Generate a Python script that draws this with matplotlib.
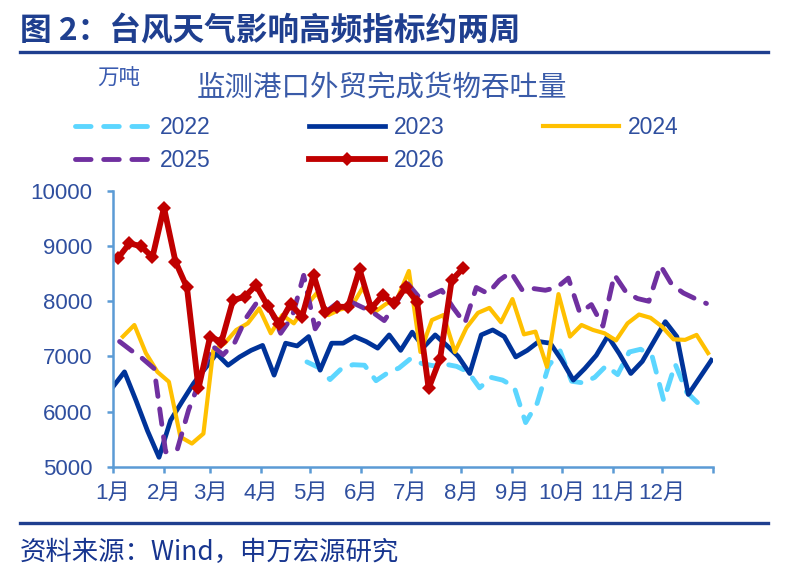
import numpy as np
import pandas as pd
import matplotlib
matplotlib.use('Agg')
import matplotlib.pyplot as plt
from matplotlib.lines import Line2D

plt.rcParams['font.family'] = ['Liberation Sans', 'Noto Sans CJK SC', 'DejaVu Sans']
plt.rcParams['axes.unicode_minus'] = False

# %% Data (weekly, 万吨)
start_2022 = '2022-04-29'
v_2022 = [6900, 6800, 6580, 6780, 6850, 6840, 6560, 6700, 6790, 6960,
          6870, 6830, 6860, 6820, 6720, 6430, 6620, 6570, 6450, 5800,
          6150, 6830, 7100, 6550, 6520, 6620, 6830, 6670, 7080, 7130,
          7000, 6200, 6860, 6350, 6150]

start_2023 = '2023-01-01'
v_2023 = [6450, 6720, 6200, 5650, 5170, 5840, 6180, 6510, 6780, 7050,
          6840, 6990, 7110, 7200, 6660, 7240, 7190, 7360, 6750, 7240,
          7240, 7360, 7270, 7150, 7390, 7110, 7440, 7170, 7390, 7200,
          7000, 6690, 7390, 7480, 7360, 6990, 7110, 7270, 7240, 6930,
          6570, 6780, 7020, 7370, 7050, 6690, 6910, 7270, 7630, 7360,
          6310, 6620, 6930]

start_2024 = '2024-01-07'
v_2024 = [7360, 7570, 7060, 6720, 6540, 5540, 5420, 5600, 7110, 7240,
          7480, 7600, 7870, 7420, 7750, 7600, 7900, 8150, 7750, 7850,
          7900, 8250, 7800, 7950, 8050, 8550, 7080, 7660, 7750, 7080,
          7520, 7790, 7880, 7620, 8040, 7400, 7450, 6810, 8130, 7360,
          7570, 7480, 7420, 7290, 7600, 7760, 7700, 7540, 7310, 7300,
          7390, 7060]

start_2025 = '2025-01-05'
v_2025 = [7270, 7110, 6960, 6780, 5270, 5300, 6030, 6570, 7200, 7030,
          7250, 7700, 8000, 7900, 7420, 7720, 8470, 7500, 7820, 7980,
          8000, 7900, 7800, 7650, 7950, 8330, 8080, 8100, 8200, 7880,
          7600, 8250, 8140, 8380, 8530, 8200, 8230, 8200, 8250, 8420,
          7790, 7940, 7550, 8480, 8170, 8050, 8000, 8650, 8300, 8150,
          8050, 7960]

start_2026 = '2026-01-04'
v_2026 = [8780, 9050, 9000, 8800, 9700, 8720, 8250, 6420, 7350, 7270,
          8020, 8080, 8290, 7920, 7580, 7950, 7720, 8480, 7800, 7900,
          7900, 8580, 7870, 8110, 7960, 8250, 7990, 6420, 6960, 8380,
          8600]

month_labels = ['1月', '2月', '3月', '4月', '5月', '6月',
                '7月', '8月', '9月', '10月', '11月', '12月']


def day_of_year(start, n):
    # map weekly dates of any year onto one common calendar year
    dates = pd.date_range(start, periods=n, freq='7D')
    base = pd.Timestamp('2026-01-01')
    return np.array([(d.replace(year=2026) - base).days for d in dates])


# %% Plot
NAVY = '#1F3F8F'
TXT = '#2F4F9F'
AXC = '#5B9BD5'

fig = plt.figure(figsize=(7.89, 5.76), dpi=100)
ax = fig.add_axes([113 / 789, 1 - 466.7 / 576, 600 / 789, 275.7 / 576])

dash_kw = dict(linestyle=(0, (3.2, 2.6)), dash_capstyle='round', linewidth=3.5)
l22, = ax.plot(day_of_year(start_2022, len(v_2022)), v_2022, color='#5CD6FF', **dash_kw)
l23, = ax.plot(day_of_year(start_2023, len(v_2023)), v_2023, color='#003399', linewidth=3.4)
l24, = ax.plot(day_of_year(start_2024, len(v_2024)), v_2024, color='#FFC000', linewidth=3.0)
l25, = ax.plot(day_of_year(start_2025, len(v_2025)), v_2025, color='#7030A0', **dash_kw)
l26, = ax.plot(day_of_year(start_2026, len(v_2026)), v_2026, color='#C00000', linewidth=4.2,
               marker='D', markersize=7, markeredgewidth=0)

ax.set_xlim(0, 365)
ax.set_ylim(5000, 10000)
month_starts = pd.date_range('2026-01-01', periods=13, freq='MS')
tick_x = [(m - pd.Timestamp('2026-01-01')).days for m in month_starts]
ax.set_xticks(tick_x)
ax.set_xticklabels(month_labels + [''])
ax.set_yticks(np.arange(5000, 10001, 1000))

for s in ['top', 'right']:
    ax.spines[s].set_visible(False)
for s in ['left', 'bottom']:
    ax.spines[s].set_color(AXC)
    ax.spines[s].set_linewidth(1.8)
ax.tick_params(axis='both', colors=AXC, width=1.8, length=4, labelsize=16,
               labelcolor=TXT)
ax.tick_params(axis='x', pad=8)
ax.tick_params(axis='y', pad=11)
ax.grid(False)

# legend, row-major order
handles = [l22, l25, l23, l26, l24]
labels = ['2022', '2025', '2023', '2026', '2024']
leg = fig.legend(handles, labels, ncol=3, loc='upper left',
                 bbox_to_anchor=(75 / 789, 1 - 116 / 576), frameon=False,
                 fontsize=16.5, handlelength=3.3, handletextpad=0.4,
                 columnspacing=4.3, labelspacing=0.45, borderpad=0, borderaxespad=0)
for t in leg.get_texts():
    t.set_color(TXT)

# titles and notes
fig.text(20 / 789, 1 - 31 / 576, '图 2：台风天气影响高频指标约两周', fontsize=22.8,
         fontweight='bold', color=NAVY, va='center', ha='left',
         family=['Noto Sans CJK SC'])
fig.add_artist(Line2D([20 / 789, 768 / 789], [1 - 52 / 576, 1 - 52 / 576],
                      color=NAVY, linewidth=2.4, transform=fig.transFigure))
fig.text(97 / 789, 1 - 79 / 576, '万吨', fontsize=15.5, color='#3A5BB0',
         va='center', ha='left', family=['Noto Sans CJK SC'])
fig.text(197 / 789, 1 - 89 / 576, '监测港口外贸完成货物吞吐量', fontsize=20.5,
         color='#3A5BA8', va='center', ha='left', family=['Noto Sans CJK SC'])
fig.add_artist(Line2D([20 / 789, 768 / 789], [1 - 523 / 576, 1 - 523 / 576],
                      color=NAVY, linewidth=2.4, transform=fig.transFigure))
fig.text(20 / 789, 1 - 552 / 576, '资料来源：Wind，申万宏源研究', fontsize=19,
         color='#17358F', va='center', ha='left',
         family=['Noto Sans CJK SC', 'DejaVu Sans'])

fig.savefig('out.png', dpi=100)
